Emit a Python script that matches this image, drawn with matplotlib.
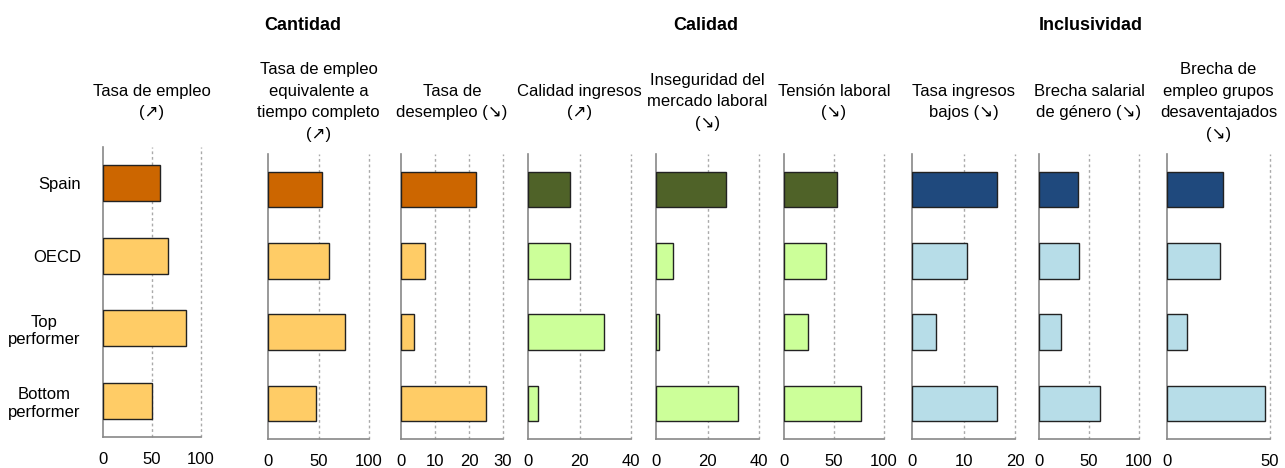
import matplotlib
matplotlib.use("Agg")
import matplotlib.pyplot as plt

plt.rcParams["font.family"] = ["Liberation Sans Narrow", "Liberation Sans", "DejaVu Sans"]

# ── DATA ──────────────────────────────────────────────────────────────
categories = ["Spain", "OECD", "Top\nperformer", "Bottom\nperformer"]

panel_titles = [
    "Tasa de empleo\n(\u2197)",
    "Tasa de empleo\nequivalente a\ntiempo completo\n(\u2197)",
    "Tasa de\ndesempleo (\u2198)",
    "Calidad ingresos\n(\u2197)",
    "Inseguridad del\nmercado laboral\n(\u2198)",
    "Tensión laboral\n(\u2198)",
    "Tasa ingresos\nbajos (\u2198)",
    "Brecha salarial\nde género (\u2198)",
    "Brecha de\nempleo grupos\ndesaventajados\n(\u2198)",
]

groups = ["Cantidad", "Calidad", "Inclusividad"]
panel_group = [0, 0, 0, 1, 1, 1, 2, 2, 2]

tasa_empleo       = [57.8, 66.0, 84.4, 50.0]
tasa_empleo_fte   = [53.5, 60.4, 75.9, 47.2]
tasa_desempleo    = [22.1, 7.0, 3.7, 25.1]
calidad_ingresos  = [16.5, 16.5, 29.5, 3.9]
inseguridad       = [27.0, 6.5, 1.0, 32.0]
tension_laboral   = [52.8, 42.2, 24.3, 77.1]
ingresos_bajos    = [16.5, 10.6, 4.7, 16.5]
brecha_salarial   = [38.5, 39.9, 21.6, 61.1]
brecha_empleo     = [27.4, 25.5, 9.7, 47.4]

panel_values = [tasa_empleo, tasa_empleo_fte, tasa_desempleo, calidad_ingresos,
                inseguridad, tension_laboral, ingresos_bajos, brecha_salarial,
                brecha_empleo]

panel_ticks = [
    [0, 50, 100], [0, 50, 100], [0, 10, 20, 30], [0, 20, 40], [0, 20, 40],
    [0, 50, 100], [0, 10, 20], [0, 50, 100], [0, 50],
]

# ── STYLE ─────────────────────────────────────────────────────────────
dark_colors  = ["#CC6600", "#4F6228", "#1F497D"]
light_colors = ["#FFCC66", "#CCFF99", "#B7DDE8"]

W, H = 1285, 468
fig = plt.figure(figsize=(W / 100, H / 100), dpi=100)

# pixel layout of each panel: left, right, top, bottom
lefts   = [103, 268, 401, 528, 656, 784, 912, 1039, 1167]
rights  = [201, 369, 503, 631, 759, 884, 1015, 1139, 1270]
tops    = [147, 154, 154, 154, 154, 154, 154, 154, 154]
bottoms = [437, 439, 439, 439, 439, 439, 439, 439, 439]

for i, vals in enumerate(panel_values):
    ax = fig.add_axes([lefts[i] / W, 1 - bottoms[i] / H,
                       (rights[i] - lefts[i]) / W, (bottoms[i] - tops[i]) / H])
    g = panel_group[i]
    colors = [dark_colors[g]] + [light_colors[g]] * 3
    ypos = list(range(len(categories)))
    ax.barh(ypos, vals, height=0.5, color=colors, edgecolor="#222222",
            linewidth=1.0, zorder=3)
    ticks = panel_ticks[i]
    ax.set_xlim(0, ticks[-1])
    ax.set_ylim(3.5, -0.5)
    ax.set_xticks(ticks)
    ax.set_xticklabels([str(t) for t in ticks])
    for t in ticks[1:]:
        ax.axvline(t, color="#AAAAAA", linestyle=(0, (2, 2)), linewidth=1.0,
                   zorder=1, clip_on=False)
    ax.tick_params(axis="x", length=0, pad=11, labelsize=12, colors="#000000")
    ax.set_yticks(ypos)
    if i == 0:
        ax.set_yticklabels(categories, fontsize=12, ha="right", multialignment="center")
        ax.tick_params(axis="y", length=0, pad=16)
    else:
        ax.set_yticklabels([])
        ax.tick_params(axis="y", length=0)
    for side in ["top", "right"]:
        ax.spines[side].set_visible(False)
    for side in ["left", "bottom"]:
        ax.spines[side].set_color("#888888")
        ax.spines[side].set_linewidth(1.2)
    cx = (lefts[i] + rights[i]) / 2 / W
    fig.text(cx, 1 - 102 / H, panel_titles[i], ha="center", va="center",
             fontsize=12, linespacing=1.58)

# group headers centred over their three panels
for g, name in enumerate(groups):
    idx = [i for i, pg in enumerate(panel_group) if pg == g]
    cx = (lefts[idx[0]] + rights[idx[-1]]) / 2 / W
    fig.text(cx, 1 - 25 / H, name, ha="center", va="center",
             fontsize=13, fontweight="bold")

fig.savefig("out.png", dpi=100)
